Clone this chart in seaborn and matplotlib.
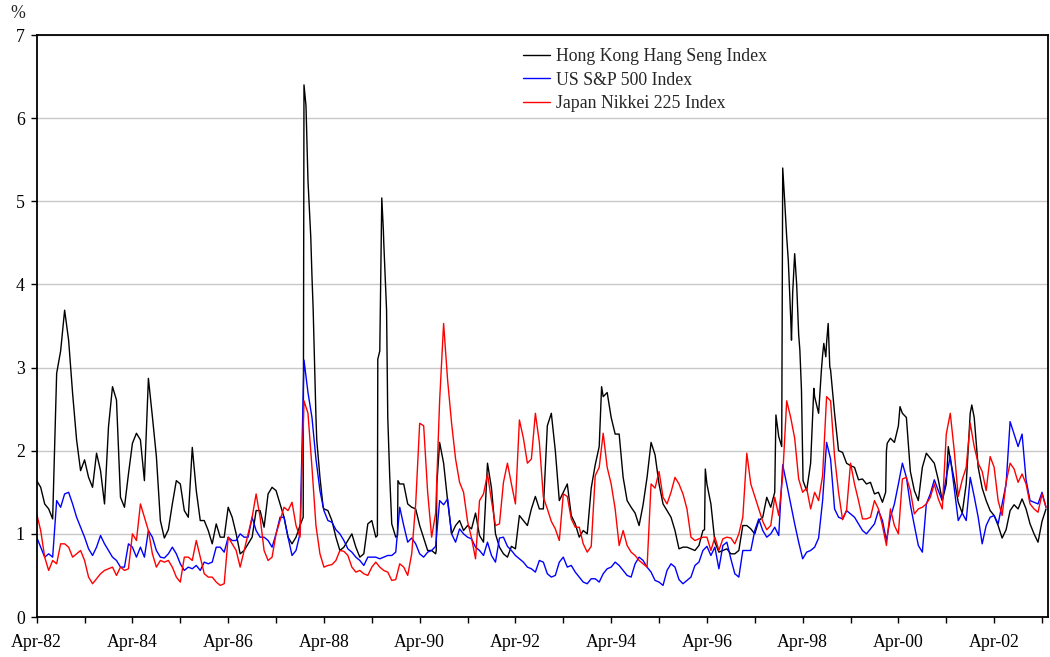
import numpy as np
import pandas as pd
import matplotlib
matplotlib.use("Agg")
import matplotlib.pyplot as plt
from matplotlib.ticker import FixedLocator
import seaborn as sns

# Monthly observations, month 0 = April 1982
start_year = 1982.25
series_names = ["Hong Kong Hang Seng Index", "US S&P 500 Index", "Japan Nikkei 225 Index"]
series_colors = ["#000000", "#0000FF", "#FF0000"]

hk_vol = [
    1.64, 1.56, 1.36, 1.30, 1.18, 2.93, 3.20, 3.69, 3.33, 2.69,
    2.13, 1.76, 1.89, 1.68, 1.56, 1.97, 1.76, 1.36, 2.29, 2.77,
    2.61, 1.44, 1.32, 1.72, 2.09, 2.21, 2.13, 1.64, 2.87, 2.41,
    1.93, 1.16, 0.95, 1.05, 1.36, 1.64, 1.60, 1.28, 1.20, 2.04,
    1.52, 1.16, 1.16, 1.04, 0.88, 1.12, 0.96, 0.96, 1.32, 1.20,
    1.00, 0.76, 0.80, 0.88, 0.96, 1.28, 1.28, 1.08, 1.48, 1.56,
    1.52, 1.36, 1.20, 0.96, 0.88, 0.96, 1.10, 6.40, 5.25, 4.10,
    2.40, 1.68, 1.30, 1.28, 1.16, 0.96, 0.80, 0.84, 0.92, 1.00,
    0.84, 0.72, 0.76, 1.12, 1.16, 0.96, 3.20, 4.50, 2.40, 1.12,
    0.96, 1.60, 1.60, 1.36, 1.32, 1.30, 1.10, 0.95, 0.80, 0.80,
    0.76, 2.10, 1.85, 1.40, 1.00, 1.10, 1.16, 1.04, 1.10, 1.06,
    1.25, 0.98, 0.90, 1.85, 1.55, 1.00, 0.84, 0.76, 0.72, 0.85,
    0.82, 1.22, 1.16, 1.10, 1.30, 1.45, 1.30, 1.30, 2.30, 2.45,
    2.00, 1.40, 1.50, 1.60, 1.22, 1.12, 0.96, 1.04, 1.00, 1.55,
    1.83, 2.05, 2.65, 2.70, 2.40, 2.20, 2.20, 1.68, 1.40, 1.32,
    1.25, 1.10, 1.35, 1.68, 2.10, 1.95, 1.60, 1.36, 1.28, 1.20,
    1.04, 0.82, 0.84, 0.84, 0.82, 0.80, 0.86, 1.04, 1.60, 1.36,
    0.90, 0.78, 0.80, 0.82, 0.76, 0.76, 0.80, 1.10, 1.10, 1.06,
    1.00, 1.16, 1.20, 1.44, 1.32, 1.50, 2.17, 5.40, 4.57, 3.60,
    4.37, 3.40, 1.90, 1.52, 1.85, 2.65, 2.45, 3.15, 3.30, 2.97,
    2.45, 2.00, 1.98, 1.85, 1.82, 1.80, 1.65, 1.66, 1.60, 1.62,
    1.48, 1.50, 1.38, 2.00, 2.15, 2.10, 2.30, 2.45, 2.40, 1.75,
    1.52, 1.40, 1.80, 1.97, 1.91, 1.85, 1.65, 1.40, 1.60, 1.90,
    1.65, 1.38, 1.25, 1.60, 2.45, 2.40, 1.80, 1.55, 1.40, 1.28,
    1.22, 1.10, 0.95, 1.05, 1.28, 1.35, 1.30, 1.42, 1.30, 1.12,
    1.00, 0.90, 1.15, 1.30,
]

# Intra-month readings around the sharp Hang Seng spikes
hk_detail_month = [66.8, 67.5, 68.7, 69.3, 70.2, 71.8,
                   85.4, 85.5, 86.5, 86.9, 87.7, 88.5,
                   90.45, 90.55, 100.15, 100.3, 141.6, 167.4, 167.6,
                   185.3, 186.75, 187.5, 188.4, 188.8, 189.2, 189.5,
                   190.5, 190.9, 191.3, 191.7, 192.1,
                   194.8, 196.7, 197.3, 197.8, 198.4, 198.8,
                   212.8, 213.2, 216.4, 228.5, 234.4]
hk_detail_vol = [1.20, 6.15, 4.57, 3.70, 2.13, 1.32,
                 0.98, 3.10, 5.04, 4.65, 3.69, 1.68,
                 0.98, 1.64, 0.80, 1.60, 2.77, 1.05, 1.78,
                 2.43, 2.05, 5.00, 4.29, 3.85, 3.33, 3.90,
                 4.00, 3.53, 3.21, 2.73, 1.64,
                 2.75, 2.97, 3.29, 3.13, 3.53, 3.01,
                 1.50, 2.09, 2.53, 2.05, 2.55]

us_vol = [
    0.96, 0.84, 0.72, 0.76, 0.72, 1.40, 1.32, 1.48, 1.50, 1.36,
    1.20, 1.08, 0.96, 0.82, 0.74, 0.84, 0.98, 0.88, 0.80, 0.72,
    0.68, 0.60, 0.60, 0.88, 0.84, 0.72, 0.84, 0.72, 1.04, 0.96,
    0.80, 0.72, 0.71, 0.76, 0.84, 0.76, 0.64, 0.56, 0.60, 0.58,
    0.62, 0.56, 0.66, 0.64, 0.66, 0.84, 0.84, 0.78, 0.96, 0.92,
    0.92, 1.00, 0.96, 0.96, 1.20, 1.04, 0.96, 0.96, 0.92, 0.84,
    1.00, 1.20, 1.20, 0.96, 0.74, 0.80, 1.00, 3.09, 2.70, 2.40,
    1.90, 1.52, 1.28, 1.16, 1.14, 1.05, 1.00, 0.92, 0.82, 0.78,
    0.72, 0.68, 0.62, 0.72, 0.72, 0.72, 0.70, 0.72, 0.74, 0.74,
    0.78, 1.32, 1.10, 0.90, 0.95, 0.88, 0.76, 0.72, 0.78, 0.80,
    0.85, 1.40, 1.35, 1.42, 1.00, 0.90, 1.06, 1.00, 0.96, 0.94,
    0.84, 0.80, 0.74, 0.90, 0.74, 0.66, 0.95, 0.96, 0.85, 0.80,
    0.74, 0.70, 0.66, 0.60, 0.58, 0.54, 0.68, 0.66, 0.52, 0.48,
    0.50, 0.66, 0.72, 0.60, 0.62, 0.54, 0.48, 0.42, 0.40, 0.46,
    0.46, 0.42, 0.52, 0.58, 0.60, 0.66, 0.62, 0.56, 0.50, 0.48,
    0.64, 0.72, 0.68, 0.60, 0.54, 0.44, 0.42, 0.38, 0.56, 0.64,
    0.60, 0.45, 0.40, 0.44, 0.48, 0.62, 0.66, 0.80, 0.85, 0.74,
    0.84, 0.58, 0.86, 0.90, 0.70, 0.52, 0.48, 0.80, 0.80, 0.80,
    1.04, 1.18, 1.04, 0.96, 1.00, 1.08, 0.98, 1.83, 1.60, 1.36,
    1.12, 0.90, 0.70, 0.78, 0.80, 0.84, 0.95, 1.40, 2.10, 1.90,
    1.30, 1.20, 1.18, 1.28, 1.24, 1.20, 1.12, 1.04, 1.00, 1.06,
    1.12, 1.28, 1.16, 0.92, 1.20, 1.36, 1.60, 1.85, 1.68, 1.35,
    1.10, 0.86, 0.78, 1.36, 1.48, 1.65, 1.52, 1.40, 1.68, 1.93,
    1.55, 1.16, 1.25, 1.16, 1.68, 1.45, 1.20, 0.88, 1.10, 1.20,
    1.22, 1.12, 1.36, 1.60, 2.35, 2.20, 2.05, 2.20, 1.65, 1.40,
    1.38, 1.36, 1.50, 1.32,
]

jp_vol = [
    1.24, 1.04, 0.72, 0.56, 0.68, 0.64, 0.88, 0.88, 0.84, 0.72,
    0.76, 0.80, 0.68, 0.48, 0.40, 0.46, 0.52, 0.56, 0.58, 0.60,
    0.50, 0.60, 0.56, 0.58, 1.00, 0.92, 1.36, 1.20, 1.04, 0.76,
    0.60, 0.68, 0.66, 0.68, 0.60, 0.48, 0.42, 0.72, 0.72, 0.68,
    0.92, 0.72, 0.52, 0.48, 0.48, 0.42, 0.38, 0.40, 0.96, 0.88,
    0.80, 0.60, 0.80, 1.00, 1.20, 1.48, 1.20, 0.80, 0.68, 0.72,
    1.00, 1.16, 1.32, 1.28, 1.38, 1.10, 0.96, 2.60, 2.45, 1.80,
    1.10, 0.76, 0.60, 0.62, 0.63, 0.68, 0.80, 0.79, 0.74, 0.60,
    0.54, 0.56, 0.52, 0.50, 0.60, 0.66, 0.60, 0.56, 0.54, 0.44,
    0.45, 0.64, 0.60, 0.50, 0.76, 1.36, 2.33, 2.30, 1.50, 0.96,
    1.25, 2.60, 3.53, 2.85, 2.33, 1.90, 1.62, 1.50, 1.15, 0.95,
    0.70, 1.40, 1.48, 1.72, 1.40, 1.10, 1.12, 1.62, 1.85, 1.60,
    1.36, 2.37, 2.15, 1.85, 1.90, 2.45, 2.10, 1.44, 1.30, 1.15,
    1.06, 0.92, 1.48, 1.45, 1.18, 1.08, 1.08, 0.88, 0.78, 0.85,
    1.70, 1.80, 2.21, 1.80, 1.60, 1.30, 0.86, 1.04, 0.86, 0.78,
    0.74, 0.68, 0.64, 0.60, 1.60, 1.55, 1.75, 1.44, 1.36, 1.50,
    1.68, 1.60, 1.48, 1.30, 0.96, 0.92, 0.94, 0.96, 0.96, 0.80,
    0.96, 0.80, 0.94, 0.96, 0.95, 0.88, 1.00, 1.20, 1.97, 1.60,
    1.45, 1.30, 1.15, 1.05, 1.10, 1.44, 1.22, 1.70, 2.60, 2.40,
    2.15, 1.66, 1.50, 1.55, 1.30, 1.50, 1.40, 1.70, 2.65, 2.60,
    1.93, 1.50, 1.17, 1.28, 1.85, 1.60, 1.40, 1.18, 1.18, 1.20,
    1.40, 1.30, 1.10, 0.86, 1.30, 1.10, 1.00, 1.66, 1.68, 1.52,
    1.24, 1.30, 1.32, 1.36, 1.44, 1.60, 1.42, 1.30, 2.20, 2.45,
    2.00, 1.45, 1.65, 1.80, 2.33, 2.05, 1.85, 1.75, 1.52, 1.93,
    1.80, 1.40, 1.22, 1.62, 1.85, 1.78, 1.62, 1.72, 1.60, 1.36,
    1.30, 1.26, 1.48, 1.32,
]

tick_labels = ["Apr-82", "Apr-84", "Apr-86", "Apr-88", "Apr-90", "Apr-92",
               "Apr-94", "Apr-96", "Apr-98", "Apr-00", "Apr-02"]
y_ticks = [0, 1, 2, 3, 4, 5, 6, 7]

# ---- build tables ----
months = np.arange(len(hk_vol), dtype=float)
hk_m = np.concatenate([months, np.array(hk_detail_month)])
hk_v = np.concatenate([np.array(hk_vol), np.array(hk_detail_vol)])
order = np.argsort(hk_m, kind="stable")
frames = [
    pd.DataFrame({"year": start_year + hk_m[order] / 12.0, "vol": hk_v[order]}),
    pd.DataFrame({"year": start_year + np.arange(len(us_vol)) / 12.0, "vol": us_vol}),
    pd.DataFrame({"year": start_year + np.arange(len(jp_vol)) / 12.0, "vol": jp_vol}),
]

sns.set_theme(style="white")
plt.rcParams['font.family'] = ['Liberation Serif', 'DejaVu Serif']
FS = 12.8

fig = plt.figure(figsize=(10.5, 6.57), dpi=100)
ax = fig.add_axes([36.7 / 1050, 1 - 617 / 657, (1048 - 36.7) / 1050, (617 - 35) / 657])

for df, name, col in zip(frames, series_names, series_colors):
    sns.lineplot(data=df, x="year", y="vol", color=col, lw=1.0, ax=ax,
                 label=name, estimator=None, sort=True)

ax.set_xlim(start_year, start_year + 253.5 / 12.0)
ax.set_ylim(0, 7)
ax.set_yticks(y_ticks)
ax.set_yticklabels([str(v) for v in y_ticks])
major = [start_year + 2 * i for i in range(len(tick_labels))]
ax.xaxis.set_major_locator(FixedLocator(major))
ax.set_xticklabels(tick_labels)
ax.xaxis.set_minor_locator(FixedLocator([start_year + 2 * i + 1 for i in range(len(tick_labels))]))
ax.set_xlabel("")
ax.set_ylabel("")

ax.yaxis.grid(True, color="#c8c8c8", lw=1.0)
ax.xaxis.grid(False)
ax.set_axisbelow(True)
for s in ax.spines.values():
    s.set_visible(True)
    s.set_color("black")
    s.set_linewidth(1.3)

ax.tick_params(axis="both", which="both", direction="out", length=4.5, width=1.0,
               color="black", labelsize=FS, labelcolor="black")
ax.tick_params(axis="y", pad=4)
ax.tick_params(axis="x", which="both", pad=8, bottom=True)
ax.tick_params(axis="y", left=True)

ax.legend(loc="upper left", bbox_to_anchor=(0.4806, 0.978), frameon=False,
          fontsize=FS, handlelength=1.56, handletextpad=0.3, labelspacing=0.38,
          borderaxespad=0, borderpad=0)

fig.text(18 / 1050, 1 - 14 / 657, "%", ha="center", va="center", fontsize=FS)

fig.savefig("out.png", dpi=100)
